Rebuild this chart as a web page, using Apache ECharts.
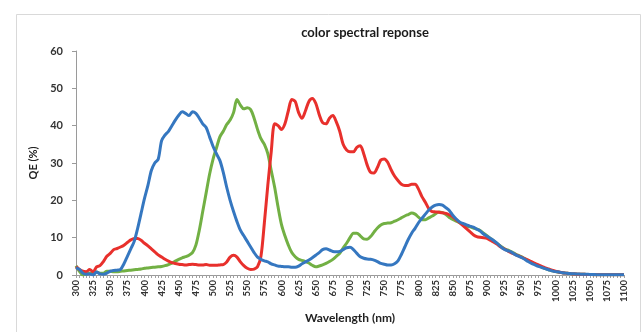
<!DOCTYPE html>
<html>
<head>
<meta charset="utf-8">
<script src="https://cdn.jsdelivr.net/npm/echarts@6/dist/echarts.min.js"></script>
<style>
html,body{margin:0;padding:0;background:#fff;}
#chart{width:643px;height:332px;}
</style>
</head>
<body>
<div id="chart"></div>
<script>
const wavelengths = [
300,305,310,315,320,325,330,335,340,345,350,355,360,365,370,375,380,385,390,395,
400,405,410,415,420,425,430,435,440,445,450,455,460,465,470,475,480,485,490,495,
500,505,510,515,520,525,530,535,540,545,550,555,560,565,570,575,580,585,590,595,
600,605,610,615,620,625,630,635,640,645,650,655,660,665,670,675,680,685,690,695,
700,705,710,715,720,725,730,735,740,745,750,755,760,765,770,775,780,785,790,795,
800,805,810,815,820,825,830,835,840,845,850,855,860,865,870,875,880,885,890,895,
900,905,910,915,920,925,930,935,940,945,950,955,960,965,970,975,980,985,990,995,
1000,1005,1010,1015,1020,1025,1030,1035,1040,1045,1050,1055,1060,1065,1070,1075,1080,1085,1090,1095,
1100];

const blueQE = [
2.0,1.5,0.5,0.2,0.3,0.0,0.8,0.3,0.2,0.5,1.0,1.2,1.3,1.5,3.0,5.0,7.0,9.0,12.5,16.5,
20.5,24,28,30,31,36,37.5,38.5,40,41.5,42.8,43.7,43.3,42.7,43.7,43.3,42,40.5,39.5,37,
34.5,32.5,30.7,27.5,23.5,20,17,14.3,12,10.5,9,7.5,6,4.8,4.2,3.8,3.5,3.0,2.7,2.4,
2.3,2.2,2.2,2.1,2.1,2.4,3.0,3.5,4.0,4.6,5.3,6.0,6.8,7.0,6.7,6.3,6.2,6.3,6.8,7.3,
7.4,6.8,5.8,4.9,4.5,4.3,4.2,4.0,3.6,3.1,2.9,2.7,2.7,3.0,3.8,5.5,7.5,9.5,11.2,12.5,
14,15.2,16.3,17.4,18.2,18.7,18.9,18.7,18,17.3,16,15,14.2,13.8,13.4,13.1,12.8,12.3,11.8,11,
10.4,9.8,9.2,8.5,7.6,6.9,6.5,6.2,5.6,5.1,4.7,4.2,3.6,3.1,2.7,2.3,2.0,1.7,1.4,1.1,
0.9,0.8,0.6,0.5,0.4,0.35,0.3,0.25,0.2,0.2,0.15,0.15,0.1,0.1,0.1,0.1,0.1,0.1,0.1,0.1,
0.1];

const redQE = [
2.2,1.5,1.0,0.9,1.5,0.8,2.2,2.5,3.6,5.0,5.8,6.8,7.1,7.5,8.0,8.7,9.4,9.8,9.8,9.3,
8.5,7.8,7.0,6.2,5.4,4.8,4.2,3.7,3.3,3.1,2.9,2.8,2.7,2.8,2.9,2.8,2.7,2.7,2.8,2.6,
2.6,2.6,2.7,2.8,3.5,4.8,5.3,4.8,3.5,2.5,1.8,1.5,1.6,2.2,5,14,24,33,40.5,40,
39,40.5,44,47,46.5,43.5,42,44,46.5,47.3,46,43,40.8,40.5,42,42.7,41,38.5,35,33.5,
33,33,34.2,34.6,32.5,29.5,27.5,27.3,28.8,30.8,31.1,30.2,28.2,26.5,25.3,24.3,24,24,24.3,24.3,
23,21,19.5,17.8,17,16.9,16.8,16.7,16.5,16.1,15.6,14.8,14,13.2,12.4,11.6,10.8,10.3,10.1,10.0,
9.8,9.3,8.8,8.2,7.5,7,6.5,6.0,5.6,5.2,4.8,4.4,4.0,3.6,3.1,2.7,2.3,1.9,1.6,1.3,
1.0,0.8,0.6,0.5,0.4,0.3,0.25,0.2,0.2,0.15,0.15,0.1,0.1,0.1,0.1,0.1,0.1,0.1,0.1,0.1,
0.1];

const greenQE = [
2.5,1.0,0.0,0.3,0.5,0.5,0.8,0.5,0.5,1.0,1.0,0.9,0.9,1.0,1.1,1.2,1.3,1.4,1.5,1.6,
1.8,1.9,2.0,2.1,2.2,2.3,2.5,2.8,3.2,3.7,4.2,4.6,4.9,5.3,6.0,8,12,17,22,27,
31,34,37,38.5,40.3,41.5,43.5,47,45.5,44.5,44.8,44.3,42,39,36.5,35,32.5,28,23.5,18.2,
13.5,10.5,8,6,4.9,4.2,3.9,3.6,3.2,2.6,2.2,2.4,2.7,3.1,3.6,4.2,5,5.8,7.2,8.5,
10,11.2,11.2,10.5,9.7,9.6,10.3,11.5,12.6,13.4,13.8,13.9,14,14.4,14.8,15.3,15.8,16.2,16.6,16.3,
15.5,14.8,14.8,15.3,15.8,16.4,16.9,16.7,16.2,15.4,14.9,14.4,14.0,13.5,13.1,12.9,12.6,12.3,11.9,11.2,
10.5,9.8,9.1,8.4,7.7,7.1,6.7,6.3,5.8,5.3,4.9,4.4,3.9,3.4,2.9,2.5,2.1,1.7,1.4,1.1,
0.9,0.75,0.6,0.5,0.4,0.3,0.25,0.2,0.2,0.15,0.15,0.1,0.1,0.1,0.1,0.1,0.1,0.1,0.1,0.1,
0.1];

const yTicks = [0, 60, 10];
const FONT = 'Lato, "Open Sans", sans-serif';

const chart = echarts.init(document.getElementById('chart'), null, {renderer: 'canvas'});
const line = (name, data, color) => ({
  name, type: 'line', data, showSymbol: false, smooth: 0.3,
  lineStyle: {color, width: 3}, itemStyle: {color}, animation: false
});
chart.setOption({
  animation: false,
  backgroundColor: '#fff',
  graphic: [{
    type: 'rect', left: 14, top: 12, silent: true,
    shape: {width: 624, height: 330},
    style: {fill: 'none', stroke: '#d9d9d9', lineWidth: 1}
  }],
  title: {
    text: 'color spectral reponse', left: 360, top: 21, textAlign: 'center',
    textStyle: {fontFamily: FONT, fontSize: 13, fontWeight: 'bold', color: '#1a1a1a'}
  },
  grid: {left: 76, right: 19, top: 51, bottom: 57, containLabel: false},
  xAxis: {
    type: 'category', data: wavelengths, boundaryGap: false,
    name: 'Wavelength (nm)', nameLocation: 'middle', nameGap: 37,
    nameTextStyle: {fontFamily: FONT, fontSize: 12, fontWeight: 'bold', color: '#222'},
    axisLine: {lineStyle: {color: '#9a9a9a', width: 1}},
    axisTick: {interval: 0, length: 3, lineStyle: {color: '#a0a0a0'}},
    axisLabel: {interval: 4, rotate: 90, fontFamily: FONT, fontSize: 9.5, fontWeight: 'bold', color: '#333', margin: 5},
    splitLine: {show: false}
  },
  yAxis: {
    type: 'value', min: yTicks[0], max: yTicks[1], interval: yTicks[2],
    name: 'QE (%)', nameLocation: 'middle', nameGap: 34, nameRotate: 90,
    nameTextStyle: {fontFamily: FONT, fontSize: 11, fontWeight: 'bold', color: '#222'},
    axisLine: {show: true, lineStyle: {color: '#9a9a9a', width: 1}},
    axisTick: {show: true, length: 4, lineStyle: {color: '#9a9a9a'}},
    axisLabel: {fontFamily: FONT, fontSize: 11, fontWeight: 'bold', color: '#333', margin: 13},
    splitLine: {show: false}
  },
  series: [
    line('Green', greenQE, '#72b044'),
    line('Red', redQE, '#e8302c'),
    line('Blue', blueQE, '#3577c0')
  ]
});
</script>
</body>
</html>
